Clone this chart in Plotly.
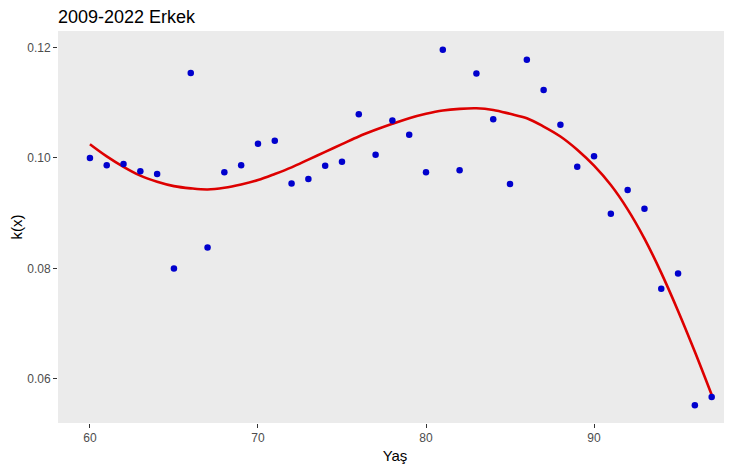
import plotly.graph_objects as go

ages = list(range(60, 98))
kx = [0.1000, 0.0987, 0.0989, 0.0976, 0.0971, 0.0800, 0.1154, 0.0838, 0.0974, 0.0987,
      0.1026, 0.1031, 0.0954, 0.0962, 0.0986, 0.0993, 0.1079, 0.1006, 0.1068, 0.1042,
      0.0974, 0.1196, 0.0978, 0.1153, 0.1070, 0.0953, 0.1178, 0.1123, 0.1060, 0.0984,
      0.1003, 0.0899, 0.0942, 0.0908, 0.0763, 0.0791, 0.0552, 0.0567]
smooth = [0.1025, 0.1003, 0.0984, 0.0968, 0.0957, 0.0949, 0.0945, 0.0943, 0.0946, 0.0952,
          0.0960, 0.0971, 0.0983, 0.0997, 0.1011, 0.1025, 0.1039, 0.1051, 0.1062, 0.1072,
          0.1080, 0.1086, 0.1089, 0.1090, 0.1087, 0.1080, 0.1072, 0.1057, 0.1039, 0.1015,
          0.0986, 0.0951, 0.0907, 0.0854, 0.0792, 0.0723, 0.0649, 0.0571]
xticks = [60, 70, 80, 90]
yticks = [0.06, 0.08, 0.10, 0.12]
ytick_text = ["0.06", "0.08", "0.10", "0.12"]

font = "Arial, Liberation Sans, sans-serif"

# page body has an 8px default margin; size the figure so the panel lands where the reference has it
W, H = 724, 467

fig = go.Figure()
fig.add_trace(go.Scatter(x=ages, y=smooth, mode="lines",
                         line=dict(color="#DD0000", width=2.6, shape="spline", smoothing=1.0),
                         hoverinfo="skip", showlegend=False))
fig.add_trace(go.Scatter(x=ages, y=kx, mode="markers",
                         marker=dict(color="#0000CD", size=6.5),
                         showlegend=False))

fig.update_layout(
    width=W, height=H,
    margin=dict(l=50, r=0, t=23, b=52),
    paper_bgcolor="white", plot_bgcolor="#EBEBEB",
    font=dict(family=font, color="black"),
    title=dict(text="2009-2022 Erkek", x=0, xref="paper", xanchor="left",
               y=1 - 2 / H, yref="container", yanchor="top", pad=dict(t=0, b=0, l=0, r=0),
               font=dict(size=18, color="black", family=font)),
)
fig.update_xaxes(range=[58.1, 98.21], tickvals=xticks, showgrid=False, zeroline=False,
                 ticks="outside", ticklen=4, tickcolor="#333333", tickwidth=1,
                 tickfont=dict(size=12, color="#4D4D4D"),
                 title=dict(text="Yaş", font=dict(size=15, color="black"), standoff=6))
fig.update_yaxes(range=[0.0520, 0.1230], tickvals=yticks, ticktext=ytick_text,
                 showgrid=False, zeroline=False,
                 ticks="outside", ticklen=4, tickcolor="#333333", tickwidth=1,
                 tickfont=dict(size=12, color="#4D4D4D"),
                 title=dict(text="k(x)", font=dict(size=15, color="black"), standoff=6))

fig.write_html("out.html")
